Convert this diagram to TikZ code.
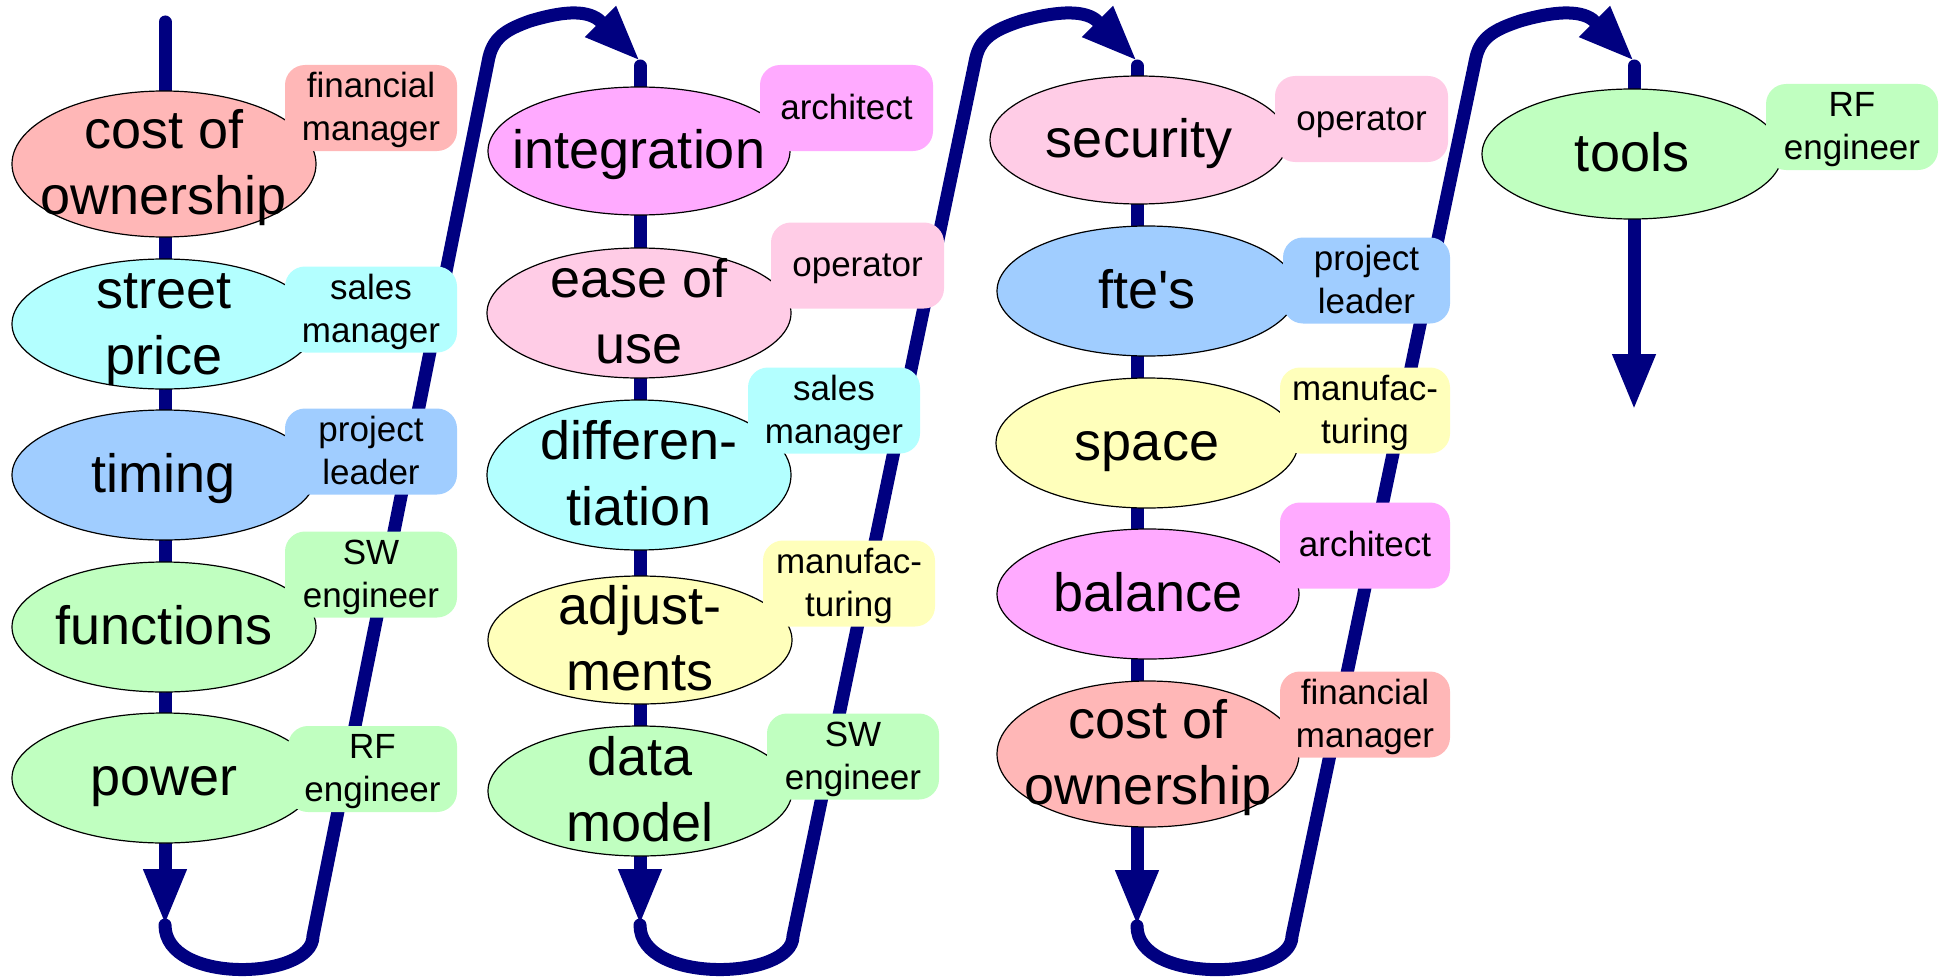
\documentclass[tikz,border=0pt]{standalone}
\usepackage{fontspec}
\setmainfont{Liberation Sans}
\usetikzlibrary{arrows.meta,shapes.geometric}
\definecolor{navy}{RGB}{0,0,128}
\definecolor{cSalmon}{RGB}{255,183,183}
\definecolor{cCyan}{RGB}{179,255,255}
\definecolor{cBlue}{RGB}{160,205,255}
\definecolor{cGreen}{RGB}{192,255,192}
\definecolor{cMagenta}{RGB}{255,170,255}
\definecolor{cPink}{RGB}{255,204,230}
\definecolor{cYellow}{RGB}{255,255,187}
\newcommand\zs{\rule[-0.25em]{0pt}{1.15em}}
\begin{document}
\begin{tikzpicture}[x=0.5pt,y=-0.5pt,
  flow/.style={draw=navy, line width=6.5pt, line cap=round, line join=round},
  tipA/.style={-{Triangle[length=28pt,width=20pt]}},
  ell/.style={ellipse, draw=black, line width=0.6pt, inner sep=0pt},
  esize/.style 2 args={minimum width=#1pt, minimum height=#2pt},
  etext/.style={font=\fontsize{27}{33}\selectfont, align=center, inner sep=0pt},
  role/.style={rounded corners=10pt, inner sep=0pt, align=center, minimum height=43pt,
    font=\fontsize{17.5}{21.5}\selectfont}]
\useasboundingbox (0,0) rectangle (1946,979);

% ---- coordinates of stems
\coordinate (top1) at (165,22);   \coordinate (tip1) at (165,925);
\coordinate (top2) at (640,66);   \coordinate (tip2) at (640,925);
\coordinate (top3) at (1137,66);  \coordinate (tip3) at (1137,926);
\coordinate (top4) at (1634,66);  \coordinate (tip4) at (1634,410);
\coordinate (in2) at (640,61);
\coordinate (in3) at (1137,61);
\coordinate (in4) at (1634,61);

% ---- stems
\draw[flow,tipA] (top1) -- (tip1);
\draw[flow,tipA] (top2) -- (tip2);
\draw[flow,tipA] (top3) -- (tip3);
\draw[flow,tipA] (top4) -- (tip4);

% ---- loops to next column
\draw[flow,tipA] (tip1) .. controls (165,985) and (313,980) .. (313,936)
  -- (488,62) .. controls (492,38) and (505,30) .. (530,21)
  .. controls (560,12) and (585,9) .. (599,20) -- (in2);
\draw[flow,tipA] (tip2) .. controls (640,985) and (793,980) .. (793,936)
  -- (975,62) .. controls (979,38) and (994,30) .. (1021,21)
  .. controls (1053,12) and (1082,9) .. (1096,20) -- (in3);
\draw[flow,tipA] (tip3) .. controls (1137,985) and (1292,980) .. (1292,936)
  -- (1475,62) .. controls (1479,38) and (1493,30) .. (1520,21)
  .. controls (1551,12) and (1579,9) .. (1593,20) -- (in4);

% ---- column 1
\node[ell, fill=cSalmon, esize={152}{73}, label={[etext]center:\zs cost of\\\zs ownership}] (c11) at (164,164) {};
\node[ell, fill=cCyan, esize={152}{65}, label={[etext]center:\zs street\\\zs price}] (c12) at (164,324) {};
\node[ell, fill=cBlue, esize={152}{65}, label={[etext]center:\zs timing}] (c13) at (164,475) {};
\node[ell, fill=cGreen, esize={152}{65}, label={[etext]center:\zs functions}] (c14) at (164,627) {};
\node[ell, fill=cGreen, esize={152}{65}, label={[etext]center:\zs power}] (c15) at (164,778) {};

% ---- column 2
\node[ell, fill=cMagenta, esize={151}{64}, label={[etext]center:\zs integration}] (c21) at (639,151) {};
\node[ell, fill=cPink, esize={152}{65}, label={[etext]center:\zs ease of\\\zs use}] (c22) at (639,313) {};
\node[ell, fill=cCyan, esize={152}{75}, label={[etext]center:\zs differen-\\\zs tiation}] (c23) at (639,475) {};
\node[ell, fill=cYellow, esize={152}{64}, label={[etext]center:\zs adjust-\\\zs ments}] (c24) at (640,640) {};
\node[ell, fill=cGreen, esize={152}{65}, label={[etext]center:\zs data\\\zs model}] (c25) at (640,791) {};

% ---- column 3
\node[ell, fill=cPink, esize={149}{64}, label={[etext]center:\zs security}] (c31) at (1139,140) {};
\node[ell, fill=cBlue, esize={150}{65}, label={[etext]center:\zs fte\textquotesingle s}] (c32) at (1147,291) {};
\node[ell, fill=cYellow, esize={151}{65}, label={[etext]center:\zs space}] (c33) at (1147,443) {};
\node[ell, fill=cMagenta, esize={151}{65}, label={[etext]center:\zs balance}] (c34) at (1148,594) {};
\node[ell, fill=cSalmon, esize={151}{73}, label={[etext]center:\zs cost of\\\zs ownership}] (c35) at (1148,754) {};

% ---- column 4
\node[ell, fill=cGreen, esize={150}{65}, label={[etext]center:\zs tools}] (c41) at (1632,154) {};

% ---- role boxes
\node[role, fill=cSalmon, minimum width=86pt] (b11) at (371,108) {\zs financial\\\zs manager};
\node[role, fill=cCyan, minimum width=86pt] (b12) at (371,309.5) {\zs sales\\\zs manager};
\node[role, fill=cBlue, minimum width=86pt] (b13) at (371,451.5) {\zs project\\\zs leader};
\node[role, fill=cGreen, minimum width=86pt] (b14) at (371,574.5) {\zs SW\\\zs engineer};
\node[role, fill=cGreen, minimum width=84.5pt] (b15) at (372.5,769) {\zs RF\\\zs engineer};

\node[role, fill=cMagenta, minimum width=86.5pt] (b21) at (846.5,108) {\zs architect};
\node[role, fill=cPink, minimum width=86.5pt] (b22) at (857.5,265.5) {\zs operator};
\node[role, fill=cCyan, minimum width=86pt] (b23) at (834,410.5) {\zs sales\\\zs manager};
\node[role, fill=cYellow, minimum width=86pt] (b24) at (849,583.5) {\zs manufac-\\\zs turing};
\node[role, fill=cGreen, minimum width=86pt] (b25) at (853,756.5) {\zs SW\\\zs engineer};

\node[role, fill=cPink, minimum width=86.5pt] (b31) at (1361.5,119) {\zs operator};
\node[role, fill=cBlue, minimum width=83.5pt] (b32) at (1366.5,280.5) {\zs project\\\zs leader};
\node[role, fill=cYellow, minimum width=85pt] (b33) at (1365,410.5) {\zs manufac-\\\zs turing};
\node[role, fill=cMagenta, minimum width=85pt] (b34) at (1365,545.5) {\zs architect};
\node[role, fill=cSalmon, minimum width=85pt] (b35) at (1365,714.5) {\zs financial\\\zs manager};

\node[role, fill=cGreen, minimum width=86pt] (b41) at (1852,127) {\zs RF\\\zs engineer};
\end{tikzpicture}
\end{document}
